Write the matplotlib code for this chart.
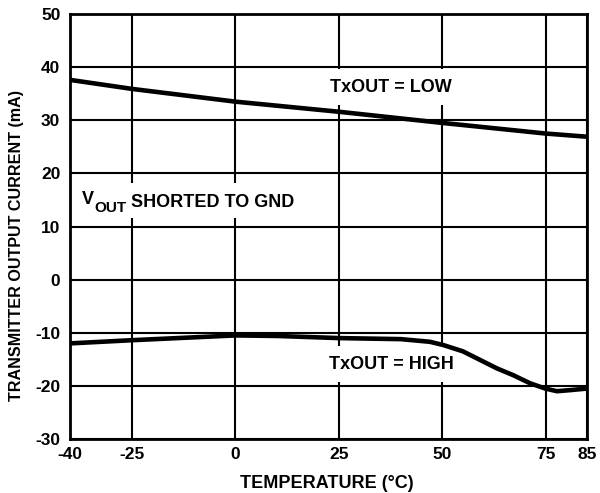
import numpy as np
from matplotlib import pyplot as plt
from matplotlib.patches import Rectangle

# temperature (degC) vs transmitter output current (mA)
temp_low = [-40, -25, 0, 25, 50, 75, 85]
current_low = [37.6, 35.9, 33.5, 31.6, 29.5, 27.5, 26.9]

temp_high = [-40, -25, 0, 10, 25, 40, 47, 50.2, 55, 59.1, 63.2, 67.2,
             71.2, 74.9, 77.7, 80.9, 85]
current_high = [-12.0, -11.4, -10.5, -10.6, -11.0, -11.2, -11.7, -12.3,
                -13.5, -15.1, -16.7, -18.0, -19.5, -20.5, -21.0, -20.8,
                -20.5]

xticks = [-40, -25, 0, 25, 50, 75, 85]
yticks = [-30, -20, -10, 0, 10, 20, 30, 40, 50]

plt.rcParams['font.family'] = ['Liberation Sans', 'DejaVu Sans']
plt.rcParams['font.weight'] = 'bold'
plt.rcParams['axes.unicode_minus'] = False

fig = plt.figure(figsize=(6, 4.93), dpi=100)
ax = fig.add_axes([0.1167, 0.1095, 0.8617, 0.8621])

ax.plot(temp_low, current_low, color='black', lw=3.3, zorder=4,
        solid_capstyle='butt', solid_joinstyle='round')
ax.plot(temp_high, current_high, color='black', lw=3.3, zorder=4,
        solid_capstyle='butt', solid_joinstyle='round')

ax.set_xlim(-40, 85)
ax.set_ylim(-30, 50)
ax.set_xticks(xticks)
ax.set_yticks(yticks)
ax.tick_params(length=0, labelsize=12.5)
ax.tick_params(axis='y', pad=7)
ax.tick_params(axis='x', pad=6)
for lab in ax.get_xticklabels() + ax.get_yticklabels():
    lab.set_fontweight('bold')
ax.grid(True, color='black', lw=1.5, zorder=1)
ax.set_axisbelow(True)
for s in ax.spines.values():
    s.set_linewidth(2)

ax.set_xlabel('TEMPERATURE (°C)', fontsize=13, fontweight='bold', va='center')
ax.xaxis.set_label_coords(0.497, -0.1035)
ax.set_ylabel('TRANSMITTER OUTPUT CURRENT (mA)', fontsize=11.6,
              fontweight='bold', va='center')
ax.yaxis.set_label_coords(-0.104, 0.456)

box = dict(facecolor='white', edgecolor='none', pad=7)
ax.text(22.9, 36.25, 'TxOUT = LOW', fontsize=13, fontweight='bold',
        va='center', ha='left', bbox=box, zorder=3)
ax.text(22.6, -15.9, 'TxOUT = HIGH', fontsize=13, fontweight='bold',
        va='center', ha='left', bbox=box, zorder=3)

# white backing for the V_OUT label, then the label in pieces
ax.add_patch(Rectangle((-38.5, 11.6), 56, 6.6, facecolor='white',
                       edgecolor='none', zorder=2.5))
tv = ax.text(-37.1, 15.0, 'V', fontsize=13, fontweight='bold',
             va='center', ha='left', zorder=3)
ts = ax.annotate('OUT', xy=(1, 0.05), xycoords=tv, fontsize=11,
                 fontweight='bold', va='center', ha='left', zorder=3)
ax.annotate(' SHORTED TO GND', xy=(1, 0.5), xycoords=ts, xytext=(0, 3.5),
            textcoords='offset points', fontsize=13, fontweight='bold',
            va='center', ha='left', zorder=3)

plt.savefig('out.png', dpi=100)
